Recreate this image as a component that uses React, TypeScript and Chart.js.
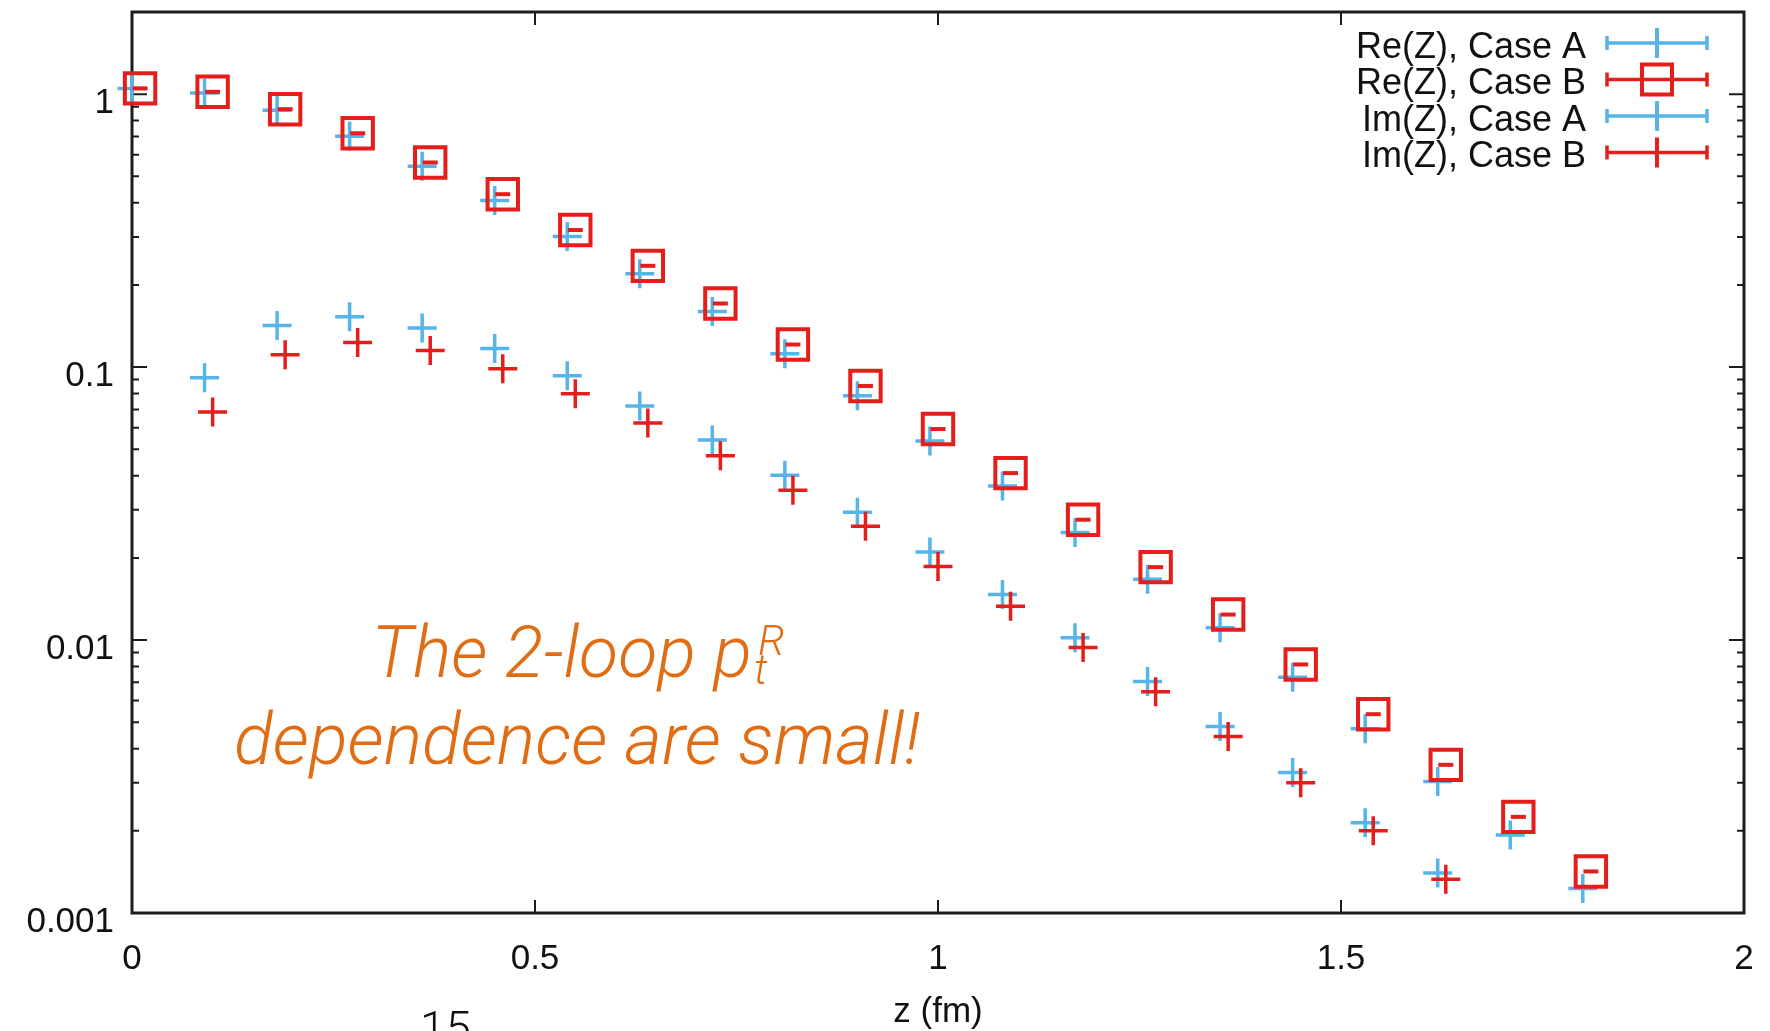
import React, { useEffect, useRef } from 'react';
import { Chart, registerables } from 'chart.js';

Chart.register(...registerables);

// ---------- data ----------
const zCaseA = [0, 0.09, 0.18, 0.27, 0.36, 0.45, 0.54, 0.63, 0.72, 0.81, 0.9, 0.99, 1.08, 1.17, 1.26, 1.35, 1.44, 1.53, 1.62, 1.71, 1.8];
const zCaseB = [0.01, 0.1, 0.19, 0.28, 0.37, 0.46, 0.55, 0.64, 0.73, 0.82, 0.91, 1.0, 1.09, 1.18, 1.27, 1.36, 1.45, 1.54, 1.63, 1.72, 1.81];

const reCaseA = [1.05, 1.01, 0.873, 0.701, 0.544, 0.408, 0.301, 0.22, 0.16, 0.112, 0.0785, 0.0536, 0.0367, 0.0248, 0.0167, 0.0111, 0.0073, 0.00473, 0.00303, 0.00193, 0.00123];
const reCaseB = [1.05, 1.02, 0.881, 0.719, 0.562, 0.43, 0.318, 0.235, 0.171, 0.121, 0.0853, 0.0593, 0.0409, 0.0276, 0.0185, 0.0124, 0.00814, 0.00535, 0.00349, 0.00225, 0.00142];

// Im(Z) starts at the second z point (index 1) and stops at index 18
const imCaseA = [0.0914, 0.142, 0.153, 0.139, 0.117, 0.0929, 0.0721, 0.0541, 0.0402, 0.0294, 0.021, 0.0147, 0.0102, 0.00705, 0.00482, 0.00327, 0.00214, 0.0014];
const imCaseB = [0.0685, 0.111, 0.123, 0.115, 0.0986, 0.0798, 0.0624, 0.0473, 0.0354, 0.0261, 0.0186, 0.0133, 0.0094, 0.00647, 0.00443, 0.003, 0.002, 0.00133];

const xTickValues = [0, 0.5, 1, 1.5, 2];
const yTickValues = [0.001, 0.01, 0.1, 1];
const seriesLabels = ['Re(Z), Case A', 'Re(Z), Case B', 'Im(Z), Case A', 'Im(Z), Case B'];
const xTitle = 'z (fm)';
const noteLine1 = 'The 2-loop p';
const noteSup = 'R';
const noteSub = 't';
const noteLine2 = 'dependence are small!';
const pageNumber = '15';

// ---------- styles ----------
const BLUE = 'rgb(86,180,233)';
const RED = 'rgb(228,30,26)';
const ORANGE = 'rgb(224,108,20)';
const AXIS = '#1c1c1c';
const FONT = '"Liberation Sans", Arial, Helvetica, sans-serif';

const pts = (xs: number[], ys: number[], offset = 0) =>
  ys.map((y, i) => ({ x: xs[i + offset], y }));

const framePlugin = {
  id: 'gnuFrame',
  beforeDatasetsDraw(chart: any) {
    const { ctx, chartArea: a, scales } = chart;
    const xs = scales.x;
    const ys = scales.y;
    ctx.save();
    ctx.strokeStyle = AXIS;
    ctx.lineWidth = 3;
    ctx.strokeRect(a.left, a.top, a.right - a.left, a.bottom - a.top);
    ctx.lineWidth = 2;
    ctx.beginPath();
    for (const v of xTickValues) {
      const px = xs.getPixelForValue(v);
      ctx.moveTo(px, a.bottom);
      ctx.lineTo(px, a.bottom - 13);
      ctx.moveTo(px, a.top);
      ctx.lineTo(px, a.top + 13);
    }
    for (const d of yTickValues) {
      for (let m = 1; m <= 9; m++) {
        const v = d * m;
        if (v > ys.max * 1.0001) break;
        const py = ys.getPixelForValue(v);
        const len = m === 1 ? 15 : 7;
        ctx.moveTo(a.left, py);
        ctx.lineTo(a.left + len, py);
        ctx.moveTo(a.right, py);
        ctx.lineTo(a.right - len, py);
      }
    }
    ctx.stroke();
    ctx.restore();
  },
};

const legendPlugin = {
  id: 'gnuLegend',
  afterDraw(chart: any) {
    const { ctx, chartArea: a } = chart;
    const entries = [
      { label: seriesLabels[0], color: BLUE, marker: 'cross' },
      { label: seriesLabels[1], color: RED, marker: 'square' },
      { label: seriesLabels[2], color: BLUE, marker: 'cross' },
      { label: seriesLabels[3], color: RED, marker: 'cross' },
    ];
    ctx.save();
    ctx.font = `36px ${FONT}`;
    ctx.textAlign = 'right';
    ctx.textBaseline = 'middle';
    entries.forEach((e, i) => {
      const y = a.top + 31 + i * 36.5;
      ctx.fillStyle = '#111';
      ctx.fillText(e.label, a.right - 158, y + 5);
      const x0 = a.right - 137;
      const x1 = a.right - 37;
      const xc = (x0 + x1) / 2;
      ctx.strokeStyle = e.color;
      ctx.lineWidth = 3.5;
      ctx.beginPath();
      ctx.moveTo(x0, y);
      ctx.lineTo(x1, y);
      ctx.moveTo(x0, y - 7);
      ctx.lineTo(x0, y + 7);
      ctx.moveTo(x1, y - 7);
      ctx.lineTo(x1, y + 7);
      ctx.stroke();
      ctx.lineWidth = 4;
      ctx.beginPath();
      if (e.marker === 'square') {
        ctx.rect(xc - 15, y - 15, 30, 30);
      } else {
        ctx.moveTo(xc, y - 15);
        ctx.lineTo(xc, y + 15);
      }
      ctx.stroke();
    });
    ctx.restore();
  },
};

const textPlugin = {
  id: 'gnuText',
  afterDraw(chart: any) {
    const { ctx, chartArea: a, height } = chart;
    ctx.save();
    // axis title
    ctx.fillStyle = '#111';
    ctx.font = `35px ${FONT}`;
    ctx.textAlign = 'center';
    ctx.textBaseline = 'alphabetic';
    ctx.fillText(xTitle, (a.left + a.right) / 2, height - 9);
    // slide page number (cut off at the bottom)
    ctx.font = '300 46px Roboto, "Liberation Sans", sans-serif';
    ctx.textAlign = 'left';
    ctx.fillText(pageNumber, 420, height + 13);
    // orange note
    const fam = 'Roboto, Lato, "Open Sans", sans-serif';
    ctx.font = `italic 300 100px ${fam}`;
    const w100 = ctx.measureText(noteLine2).width || 1000;
    const size = Math.max(54, Math.min(78, (100 * 686) / w100));
    const small = size * 0.6;
    const cx = a.left + 445;
    ctx.fillStyle = ORANGE;
    ctx.font = `italic 300 ${size}px ${fam}`;
    const w1 = ctx.measureText(noteLine1).width;
    ctx.font = `italic 300 ${small}px ${fam}`;
    const wr = ctx.measureText(noteSup).width;
    const total = w1 + 4 + wr;
    const x = cx - total / 2;
    ctx.font = `italic 300 ${size}px ${fam}`;
    ctx.fillText(noteLine1, x, a.top + 665);
    ctx.font = `italic 300 ${small}px ${fam}`;
    ctx.fillText(noteSup, x + w1 + 6, a.top + 643);
    ctx.fillText(noteSub, x + w1 + 2, a.top + 672);
    ctx.font = `italic 300 ${size}px ${fam}`;
    ctx.textAlign = 'center';
    ctx.fillText(noteLine2, cx, a.top + 752);
    ctx.restore();
  },
};

export default function App() {
  const ref = useRef<HTMLCanvasElement | null>(null);

  useEffect(() => {
    document.body.style.margin = '0';
    const canvas = ref.current;
    if (!canvas) return;
    const chart = new Chart(canvas, {
      type: 'scatter',
      data: {
        datasets: [
          {
            label: seriesLabels[0],
            data: pts(zCaseA, reCaseA),
            pointStyle: 'cross',
            pointRadius: 14.5,
            borderWidth: 3.5,
            borderColor: BLUE,
            backgroundColor: BLUE,
            showLine: false,
            clip: false,
            order: 5,
          },
          {
            label: seriesLabels[1],
            data: pts(zCaseB, reCaseB),
            pointStyle: 'rect',
            pointRadius: 21.5,
            borderWidth: 4,
            borderColor: RED,
            backgroundColor: 'rgba(0,0,0,0)',
            showLine: false,
            clip: false,
            order: 4,
          },
          {
            label: 'Re(Z), Case B error',
            data: pts(zCaseB, reCaseB),
            pointStyle: 'line',
            pointRadius: 7.5,
            borderWidth: 4,
            borderColor: RED,
            backgroundColor: RED,
            showLine: false,
            clip: false,
            order: 3,
          },
          {
            label: seriesLabels[2],
            data: pts(zCaseA, imCaseA, 1),
            pointStyle: 'cross',
            pointRadius: 14.5,
            borderWidth: 3.5,
            borderColor: BLUE,
            backgroundColor: BLUE,
            showLine: false,
            clip: false,
            order: 2,
          },
          {
            label: seriesLabels[3],
            data: pts(zCaseB, imCaseB, 1),
            pointStyle: 'cross',
            pointRadius: 14.5,
            borderWidth: 3.5,
            borderColor: RED,
            backgroundColor: RED,
            showLine: false,
            clip: false,
            order: 1,
          },
        ],
      },
      options: {
        responsive: false,
        animation: false,
        events: [],
        layout: { autoPadding: false, padding: { left: 0, right: 26, top: 12, bottom: 0 } },
        plugins: {
          legend: { display: false },
          tooltip: { enabled: false },
          title: { display: false },
        },
        scales: {
          x: {
            type: 'linear',
            min: 0,
            max: 2,
            grid: { display: false, drawTicks: false },
            border: { display: false },
            afterFit: (s: any) => {
              s.height = 118;
              s.paddingLeft = 0;
              s.paddingRight = 0;
              s.paddingTop = 0;
              s.paddingBottom = 0;
            },
            afterBuildTicks: (s: any) => {
              s.ticks = xTickValues.map((v) => ({ value: v }));
            },
            ticks: {
              padding: 25,
              color: '#111',
              font: { family: FONT, size: 35 },
              maxRotation: 0,
              autoSkip: false,
              callback: (v: any) => String(v),
            },
          },
          y: {
            type: 'logarithmic',
            min: 0.001,
            max: 2,
            grid: { display: false, drawTicks: false },
            border: { display: false },
            afterFit: (s: any) => {
              s.width = 132;
              s.paddingLeft = 0;
              s.paddingRight = 0;
              s.paddingTop = 0;
              s.paddingBottom = 0;
            },
            afterBuildTicks: (s: any) => {
              s.ticks = yTickValues.map((v) => ({ value: v }));
            },
            ticks: {
              padding: 18,
              labelOffset: 9,
              color: '#111',
              font: { family: FONT, size: 35 },
              autoSkip: false,
              callback: (v: any) => String(v),
            },
          },
        },
      },
      plugins: [framePlugin, legendPlugin, textPlugin],
    } as any);
    return () => chart.destroy();
  }, []);

  return (
    <div style={{ width: 1770, height: 1031, overflow: 'hidden', background: '#fff' }}>
      <canvas ref={ref} width={1770} height={1031} style={{ display: 'block' }} />
    </div>
  );
}
